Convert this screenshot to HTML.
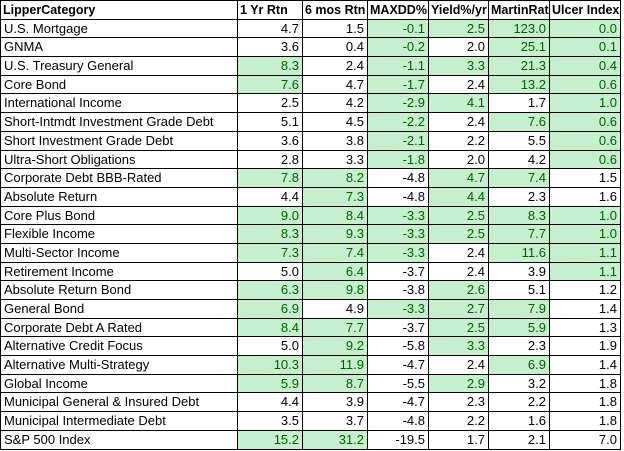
<!DOCTYPE html>
<html><head><meta charset="utf-8"><style>
html,body{margin:0;padding:0;background:#fff;width:624px;height:451px;overflow:hidden}
.t{position:absolute;left:0;top:0;display:grid;grid-template-columns:237px 65px 65px 61px 60px 61px 71px;grid-template-rows:repeat(24,18.7px);border-top:1px solid #000;border-left:1px solid #000;font-family:"Liberation Sans",sans-serif;font-size:13px;color:#000}
.t div{border-right:1px solid #000;border-bottom:1px solid #000;padding:0 3px;line-height:18px;white-space:nowrap;overflow:hidden;text-align:right}
.t div.l{text-align:left}
.t div.h{font-weight:bold;text-align:left;padding:0 2px;font-size:12.5px}
.t div.g{background:#c6efce;color:#006100}
</style></head><body><div class="t">
<div class="h">LipperCategory</div><div class="h">1 Yr Rtn</div><div class="h">6 mos Rtn</div><div class="h">MAXDD%</div><div class="h">Yield%/yr</div><div class="h">MartinRat</div><div class="h">Ulcer Index</div>
<div class="l">U.S. Mortgage</div><div>4.7</div><div>1.5</div><div class="g">-0.1</div><div class="g">2.5</div><div class="g">123.0</div><div class="g">0.0</div>
<div class="l">GNMA</div><div>3.6</div><div>0.4</div><div class="g">-0.2</div><div>2.0</div><div class="g">25.1</div><div class="g">0.1</div>
<div class="l">U.S. Treasury General</div><div class="g">8.3</div><div>2.4</div><div class="g">-1.1</div><div class="g">3.3</div><div class="g">21.3</div><div class="g">0.4</div>
<div class="l">Core Bond</div><div class="g">7.6</div><div>4.7</div><div class="g">-1.7</div><div>2.4</div><div class="g">13.2</div><div class="g">0.6</div>
<div class="l">International Income</div><div>2.5</div><div>4.2</div><div class="g">-2.9</div><div class="g">4.1</div><div>1.7</div><div class="g">1.0</div>
<div class="l">Short-Intmdt Investment Grade Debt</div><div>5.1</div><div>4.5</div><div class="g">-2.2</div><div>2.4</div><div class="g">7.6</div><div class="g">0.6</div>
<div class="l">Short Investment Grade Debt</div><div>3.6</div><div>3.8</div><div class="g">-2.1</div><div>2.2</div><div>5.5</div><div class="g">0.6</div>
<div class="l">Ultra-Short Obligations</div><div>2.8</div><div>3.3</div><div class="g">-1.8</div><div>2.0</div><div>4.2</div><div class="g">0.6</div>
<div class="l">Corporate Debt BBB-Rated</div><div class="g">7.8</div><div class="g">8.2</div><div>-4.8</div><div class="g">4.7</div><div class="g">7.4</div><div>1.5</div>
<div class="l">Absolute Return</div><div>4.4</div><div class="g">7.3</div><div>-4.8</div><div class="g">4.4</div><div>2.3</div><div>1.6</div>
<div class="l">Core Plus Bond</div><div class="g">9.0</div><div class="g">8.4</div><div class="g">-3.3</div><div class="g">2.5</div><div class="g">8.3</div><div class="g">1.0</div>
<div class="l">Flexible Income</div><div class="g">8.3</div><div class="g">9.3</div><div class="g">-3.3</div><div class="g">2.5</div><div class="g">7.7</div><div class="g">1.0</div>
<div class="l">Multi-Sector Income</div><div class="g">7.3</div><div class="g">7.4</div><div class="g">-3.3</div><div>2.4</div><div class="g">11.6</div><div class="g">1.1</div>
<div class="l">Retirement Income</div><div>5.0</div><div class="g">6.4</div><div>-3.7</div><div>2.4</div><div>3.9</div><div class="g">1.1</div>
<div class="l">Absolute Return Bond</div><div class="g">6.3</div><div class="g">9.8</div><div>-3.8</div><div class="g">2.6</div><div>5.1</div><div>1.2</div>
<div class="l">General Bond</div><div class="g">6.9</div><div>4.9</div><div class="g">-3.3</div><div class="g">2.7</div><div class="g">7.9</div><div>1.4</div>
<div class="l">Corporate Debt A Rated</div><div class="g">8.4</div><div class="g">7.7</div><div>-3.7</div><div class="g">2.5</div><div class="g">5.9</div><div>1.3</div>
<div class="l">Alternative Credit Focus</div><div>5.0</div><div class="g">9.2</div><div>-5.8</div><div class="g">3.3</div><div>2.3</div><div>1.9</div>
<div class="l">Alternative Multi-Strategy</div><div class="g">10.3</div><div class="g">11.9</div><div>-4.7</div><div>2.4</div><div class="g">6.9</div><div>1.4</div>
<div class="l">Global Income</div><div class="g">5.9</div><div class="g">8.7</div><div>-5.5</div><div class="g">2.9</div><div>3.2</div><div>1.8</div>
<div class="l">Municipal General &amp; Insured Debt</div><div>4.4</div><div>3.9</div><div>-4.7</div><div>2.3</div><div>2.2</div><div>1.8</div>
<div class="l">Municipal Intermediate Debt</div><div>3.5</div><div>3.7</div><div>-4.8</div><div>2.2</div><div>1.6</div><div>1.8</div>
<div class="l">S&amp;P 500 Index</div><div class="g">15.2</div><div class="g">31.2</div><div>-19.5</div><div>1.7</div><div>2.1</div><div>7.0</div>
</div></body></html>
